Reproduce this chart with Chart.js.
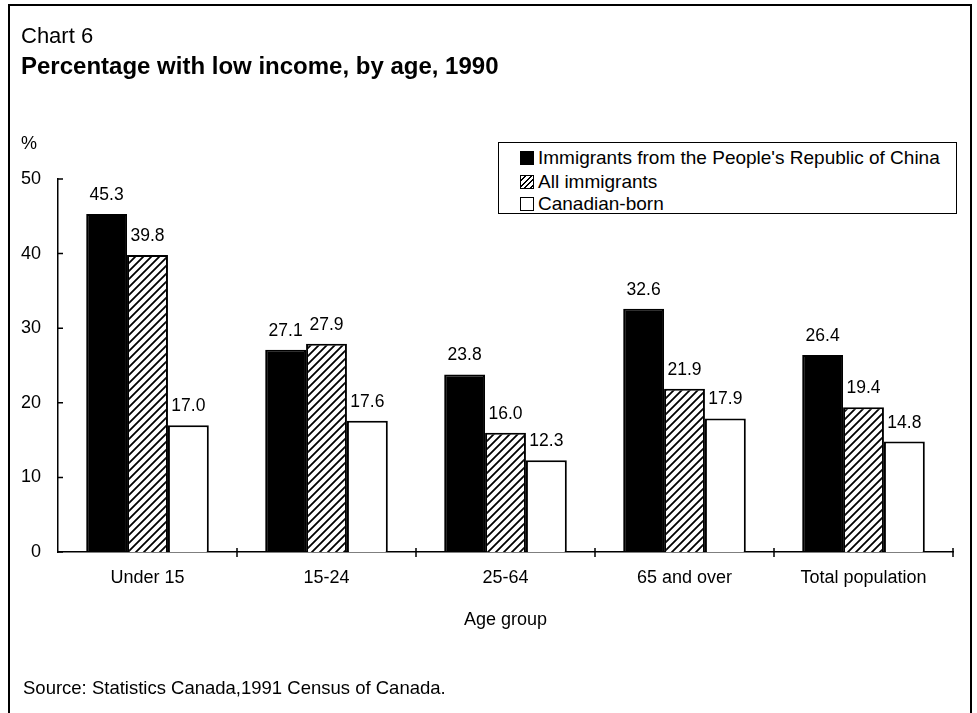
<!DOCTYPE html>
<html>
<head>
<meta charset="utf-8">
<script src="https://cdn.jsdelivr.net/npm/chart.js@4.4.1/dist/chart.umd.min.js"></script>
<style>
  html, body { margin: 0; padding: 0; background: #fff; }
  body { width: 977px; height: 713px; position: relative; overflow: hidden;
         font-family: "Liberation Sans", Arial, Helvetica, sans-serif; color: #000; }
  #frame { position: absolute; left: 8px; top: 4px; width: 964px; height: 730px;
           border: 2px solid #000; box-sizing: border-box; }
  #c { position: absolute; left: 0; top: 0; }
  .txt { position: absolute; white-space: nowrap; }
  #legend { position: absolute; left: 498px; top: 142px; width: 459px; height: 72px;
            border: 1.5px solid #000; box-sizing: border-box; background: #fff; }
  .lrow { position: absolute; left: 21px; height: 19px; line-height: 19px; font-size: 19px; white-space: nowrap; }
  .sw { display: inline-block; width: 12px; height: 12px; border: 1.5px solid #000;
        vertical-align: -1px; margin-right: 4px; box-sizing: content-box; }
</style>
</head>
<body>
<div id="frame"></div>
<canvas id="c" width="977" height="713"></canvas>
<div class="txt" style="left:21px; top:25px; font-size:22px; line-height:22px;">Chart 6</div>
<div class="txt" style="left:21px; top:54px; font-size:24px; line-height:24px; font-weight:bold;">Percentage with low income, by age, 1990</div>
<div class="txt" style="left:21px; top:134px; font-size:18px; line-height:18px;">%</div>
<div class="txt" style="left:23px; top:678px; font-size:18.5px; line-height:19px;">Source: Statistics Canada,1991 Census of Canada.</div>
<div id="legend"></div>
<script>
// ---- Data ----
const categories = ["Under 15", "15-24", "25-64", "65 and over", "Total population"];
const seriesNames = ["Immigrants from the People's Republic of China", "All immigrants", "Canadian-born"];
const chinaImmigrants = [45.3, 27.1, 23.8, 32.6, 26.4];
const allImmigrants = [39.8, 27.9, 16.0, 21.9, 19.4];
const canadianBorn = [17.0, 17.6, 12.3, 17.9, 14.8];
const yTicks = [0, 10, 20, 30, 40, 50];
const xAxisTitle = "Age group";

// hatch pattern
function makeHatch() {
  const s = 8;
  const pc = document.createElement('canvas');
  pc.width = s; pc.height = s;
  const g = pc.getContext('2d');
  g.fillStyle = '#fff'; g.fillRect(0, 0, s, s);
  g.strokeStyle = '#000'; g.lineWidth = 1.8;
  g.beginPath();
  g.moveTo(-1, s + 1); g.lineTo(s + 1, -1);
  g.moveTo(-1, 1); g.lineTo(1, -1);
  g.moveTo(s - 1, s + 1); g.lineTo(s + 1, s - 1);
  g.stroke();
  return document.getElementById('c').getContext('2d').createPattern(pc, 'repeat');
}
const hatch = makeHatch();
const fontFamily = '"Liberation Sans", Arial, sans-serif';

const valueLabels = {
  id: 'valueLabels',
  afterDatasetsDraw(chart) {
    const ctx = chart.ctx;
    ctx.save();
    ctx.font = '17.5px ' + fontFamily;
    ctx.fillStyle = '#000';
    ctx.textAlign = 'center';
    ctx.textBaseline = 'alphabetic';
    chart.data.datasets.forEach((ds, di) => {
      const meta = chart.getDatasetMeta(di);
      meta.data.forEach((bar, i) => {
        ctx.fillText(ds.data[i].toFixed(1), bar.x, bar.y - 14);
      });
    });
    ctx.restore();
  }
};

const axisTicks = {
  id: 'axisTicks',
  afterDraw(chart) {
    const ctx = chart.ctx;
    const x = chart.scales.x, y = chart.scales.y;
    ctx.save();
    ctx.strokeStyle = '#000';
    ctx.lineWidth = 1.5;
    ctx.beginPath();
    yTicks.forEach(v => {
      const py = y.getPixelForValue(v);
      ctx.moveTo(x.left, py); ctx.lineTo(x.left + 5, py);
    });
    const step = x.getPixelForValue(1) - x.getPixelForValue(0);
    for (let i = 0; i < categories.length; i++) {
      const px = x.getPixelForValue(i) + step / 2;
      ctx.moveTo(px, y.bottom - 4); ctx.lineTo(px, y.bottom + 5);
    }
    ctx.stroke();
    ctx.restore();
  }
};

const chart = new Chart(document.getElementById('c'), {
  type: 'bar',
  data: {
    labels: categories,
    datasets: [
      { label: seriesNames[0], data: chinaImmigrants, backgroundColor: '#000', borderColor: '#000', borderWidth: 2 },
      { label: seriesNames[1], data: allImmigrants, backgroundColor: hatch, borderColor: '#000', borderWidth: 2 },
      { label: seriesNames[2], data: canadianBorn, backgroundColor: '#fff', borderColor: '#000', borderWidth: 2 }
    ]
  },
  options: {
    responsive: false,
    animation: false,
    layout: { padding: { left: 0, top: 179, right: 24, bottom: 0 } },
    datasets: { bar: { categoryPercentage: 0.685, barPercentage: 1.0 } },
    plugins: { legend: { display: false }, tooltip: { enabled: false }, title: { display: false } },
    scales: {
      x: {
        grid: { display: false, drawTicks: false },
        border: { display: true, color: '#000', width: 1.5 },
        ticks: { color: '#000', font: { family: fontFamily, size: 18 }, padding: 15, maxRotation: 0, autoSkip: false },
        title: { display: true, text: xAxisTitle, color: '#000', font: { family: fontFamily, size: 18 }, padding: { top: 0, bottom: 82 } },
        afterFit(s) { s.height = 161; }
      },
      y: {
        min: 0, max: 50,
        afterBuildTicks(s) { s.ticks = yTicks.map(v => ({ value: v })); },
        grid: { display: false, drawTicks: false },
        border: { display: true, color: '#000', width: 1.5 },
        ticks: { color: '#000', font: { family: fontFamily, size: 18 }, padding: 17 },
        afterFit(s) { s.width = 58; }
      }
    }
  },
  plugins: [valueLabels, axisTicks]
});

// HTML legend built from the chart's datasets
const legend = document.getElementById('legend');
const rowTops = [5, 29, 51];
chart.data.datasets.forEach((ds, i) => {
  const row = document.createElement('div');
  row.className = 'lrow';
  row.style.top = rowTops[i] + 'px';
  const sw = document.createElement('span');
  sw.className = 'sw';
  if (i === 0) sw.style.background = '#000';
  else if (i === 1) sw.style.background = 'repeating-linear-gradient(135deg, #fff 0 2.5px, #000 2.5px 4px)';
  else sw.style.background = '#fff';
  row.appendChild(sw);
  row.appendChild(document.createTextNode(ds.label));
  legend.appendChild(row);
});
</script>
</body>
</html>
